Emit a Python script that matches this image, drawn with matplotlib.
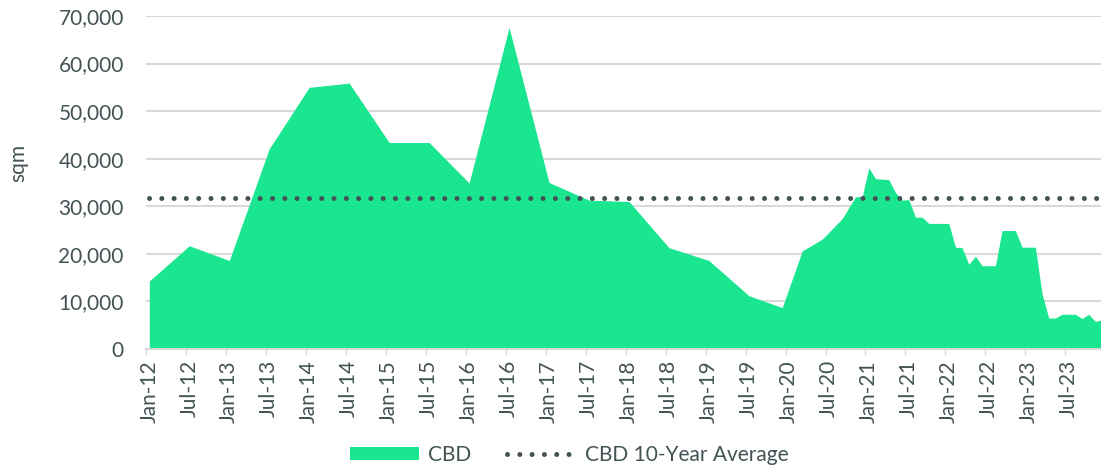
import matplotlib
matplotlib.use("Agg")
import matplotlib.pyplot as plt
from matplotlib.patches import Patch
from matplotlib.lines import Line2D
import pandas as pd

# CBD supply by period (sqm)
dates = ["2012-01", "2012-07", "2013-01", "2013-07", "2014-01", "2014-07",
         "2015-01", "2015-07", "2016-01", "2016-07", "2017-01", "2017-07",
         "2018-01", "2018-07", "2019-01", "2019-07", "2019-12", "2020-03",
         "2020-06", "2020-09", "2020-11", "2020-12", "2021-01", "2021-02",
         "2021-04", "2021-05", "2021-06", "2021-07", "2021-08", "2021-09",
         "2021-10", "2022-01", "2022-02", "2022-03", "2022-04", "2022-05",
         "2022-06", "2022-08", "2022-09", "2022-11", "2022-12", "2023-02",
         "2023-03", "2023-04", "2023-05", "2023-06", "2023-08", "2023-09",
         "2023-10", "2023-11", "2023-12"]
cbd = [14300, 21700, 18600, 42100, 55000, 55900,
       43400, 43400, 34900, 67600, 35000, 31300,
       31000, 21300, 18600, 11200, 8700, 20600,
       23100, 27400, 32000, 32000, 38100, 35800,
       35600, 32900, 31300, 31400, 27700, 27700,
       26400, 26400, 21400, 21300, 17800, 19500,
       17500, 17500, 24900, 24900, 21400, 21400,
       11600, 6500, 6500, 7300, 7300, 6400,
       7300, 5800, 6100]
avg_10yr = 31800

tick_labels = ["Jan-12", "Jul-12", "Jan-13", "Jul-13", "Jan-14", "Jul-14",
               "Jan-15", "Jul-15", "Jan-16", "Jul-16", "Jan-17", "Jul-17",
               "Jan-18", "Jul-18", "Jan-19", "Jul-19", "Jan-20", "Jul-20",
               "Jan-21", "Jul-21", "Jan-22", "Jul-22", "Jan-23", "Jul-23"]

GREEN = "#19e68f"
DARK = "#435254"
GRID = "#d9d9d9"

plt.rcParams["font.family"] = ["Lato", "DejaVu Sans"]
plt.rcParams["text.color"] = DARK

d = pd.to_datetime(dates)
x = (d.year - 2012) * 12 + (d.month - 1)

fig = plt.figure(figsize=(11.01, 4.68), dpi=100)
ax = fig.add_axes([146 / 1101, 1 - 349 / 468, 1 - 146 / 1101, 333 / 468])

ax.fill_between(x, cbd, 0, color=GREEN, lw=0, zorder=2)
ax.plot([0, 143], [avg_10yr, avg_10yr], color=DARK, lw=3.6,
        linestyle=(0, (0.01, 2.45)), dash_capstyle="round", zorder=3)

ax.set_xlim(-0.5, 142.85)
ax.set_ylim(0, 70000)
ax.set_yticks(range(0, 70001, 10000))
ax.set_yticklabels([f"{v:,}" for v in range(0, 70001, 10000)])
ax.yaxis.grid(True, color=GRID, lw=1.5, zorder=0)
ax.set_axisbelow(True)

ax.set_xticks(range(0, 139, 6))
ax.set_xticklabels(tick_labels, rotation=90)
ax.set_xticks([i - 0.5 for i in range(0, 144, 6)], minor=True)
ax.tick_params(axis="x", which="major", length=0, pad=8, labelsize=15,
               labelcolor=DARK)
ax.tick_params(axis="x", which="minor", length=4.5, width=1, color=GRID)
ax.tick_params(axis="y", length=0, pad=16, labelsize=15, labelcolor=DARK)

for s in ["top", "right", "left"]:
    ax.spines[s].set_visible(False)
ax.spines["bottom"].set_color(GRID)
ax.spines["bottom"].set_linewidth(1.5)

ax.set_ylabel("sqm", fontsize=15, color=DARK)
ax.yaxis.set_label_coords(-0.123, 0.559)

handles = [Patch(facecolor=GREEN, edgecolor="none"),
           Line2D([0], [0], color=DARK, lw=3.6, linestyle=(0, (0.01, 2.45)),
                  dash_capstyle="round")]
fig.legend(handles, ["CBD", "CBD 10-Year Average"], loc="center",
           bbox_to_anchor=(0.517, 0.028), ncol=2, frameon=False, fontsize=15,
           handlelength=3.3, handleheight=0.55, handletextpad=0.45,
           columnspacing=1.7)

fig.savefig("out.png", dpi=100)
